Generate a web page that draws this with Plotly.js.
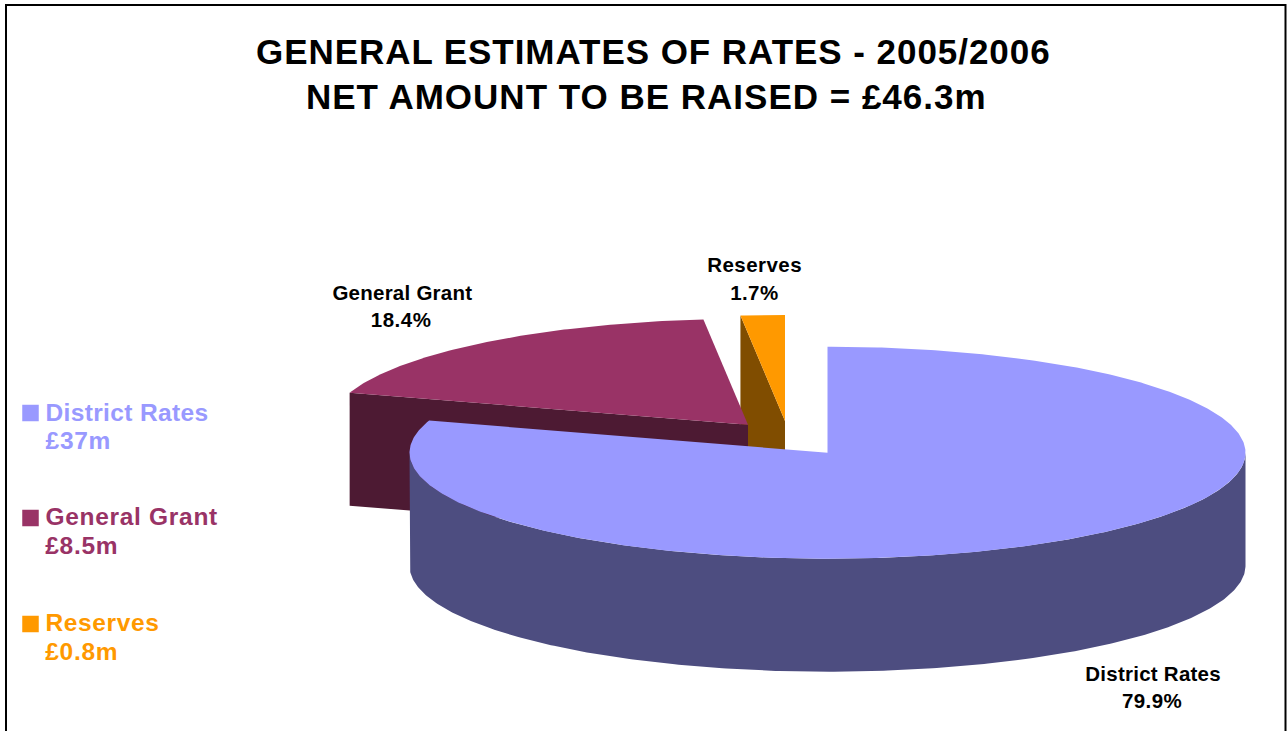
<!DOCTYPE html>
<html><head><meta charset="utf-8">
<script src="https://cdn.plot.ly/plotly-3.0.1.min.js"></script>
<style id="spacing">html,body{margin:0;padding:0;background:#fff;overflow:hidden}</style></head>
<body><div id="chart" style="width:1287px;height:731px"></div>
<script>
// Data
const categories = ["District Rates", "General Grant", "Reserves"];
const amountLabels = ["£37m", "£8.5m", "£0.8m"];
const percents = [79.9, 18.4, 1.7];
const titleLines = ["GENERAL ESTIMATES OF RATES - 2005/2006", "NET AMOUNT TO BE RAISED = £46.3m"];

// Styles
const topColors = ["#9999FF", "#993366", "#FF9900"];
const sideColors = ["#4D4D80", "#4D1A33", "#804D00"];

// Pseudo-3D pie geometry (drawn on pixel-scaled axes)
const RX = 418, RY = 106, DEPTH = 113;
const apexes = [[827.5, 452.7], [748, 424.8], [785, 421]];
const total = percents.reduce((a, b) => a + b, 0);
const ends = []; let acc = 0;
percents.forEach(v => { const s = acc; acc += v / total * 2 * Math.PI; ends.push([s, acc]); });

const pt = (c, t, dy = 0) => [c[0] + RX * Math.sin(t), c[1] - RY * Math.cos(t) + dy];
function arc(c, a, b, dy = 0) {
  const n = Math.max(8, Math.ceil(Math.abs(b - a) / 0.01)), out = [];
  for (let i = 0; i <= n; i++) out.push(pt(c, a + (b - a) * i / n, dy));
  return out;
}
function poly(points, color) {
  const p = points.concat([points[0]]);
  return { type: "scatter", mode: "lines", x: p.map(q => q[0]), y: p.map(q => q[1]),
    fill: "toself", fillcolor: color, line: { width: 0, color: color }, hoverinfo: "skip", showlegend: false };
}
const topFace = i => poly([apexes[i]].concat(arc(apexes[i], ends[i][0], ends[i][1])), topColors[i]);
function cutFace(i) { // the cut edge at the start of the slice faces the viewer
  const c = apexes[i], e = pt(c, ends[i][0]);
  return poly([e, c, [c[0], c[1] + DEPTH], [e[0], e[1] + DEPTH]], sideColors[i]);
}
function rim(i) { // front outer wall of the main slice
  const c = apexes[i];
  return poly(arc(c, Math.PI / 2, 3 * Math.PI / 2).concat(arc(c, 3 * Math.PI / 2, Math.PI / 2, DEPTH)), sideColors[i]);
}
const traces = [cutFace(2), topFace(2), cutFace(1), topFace(1), rim(0), topFace(0)];

// Legend swatches
const swatchY = [413, 518, 624];
traces.push({ type: "scatter", mode: "markers", x: [30.5, 30.5, 30.5], y: swatchY, hoverinfo: "skip", showlegend: false,
  marker: { symbol: "square", size: 16.5, color: topColors, line: { width: 0 } } });

// Text
const spacings = [];
const ann = (text, x, y, size, ls, color, anchor) => { spacings.push(ls); return { text: "<b>" + text + "</b>", x, y, xref: "x", yref: "y",
  xanchor: anchor || "center", yanchor: "middle", showarrow: false,
  font: { family: "Liberation Sans, Arial, sans-serif", size, color: color || "#000" } }; };
const pct = i => percents[i].toFixed(1) + "%";
const annotations = [
  ann(titleLines[0], 653, 51, 35, 0.95), ann(titleLines[1], 646, 96, 35, 1),
  ann(categories[1], 402, 292, 20.5, 0.25), ann(pct(1), 400.5, 319, 20.5, 0.5),
  ann(categories[2], 754.5, 264, 20.5, 0.45), ann(pct(2), 754, 292, 20.5, 0.4),
  ann(categories[0], 1152.5, 673, 20.5, 0.25), ann(pct(0), 1152, 700, 20.5, 0.4),
  ann(categories[0], 45.5, 412, 24.5, 0.35, topColors[0], "left"), ann(amountLabels[0], 44.5, 440, 24.5, 0.7, topColors[0], "left"),
  ann(categories[1], 48, 516, 24.5, 0.7, topColors[1], "left"), ann(amountLabels[1], 44.5, 545, 24.5, 0.7, topColors[1], "left"),
  ann(categories[2], 45.5, 622, 24.5, 0.65, topColors[2], "left"), ann(amountLabels[2], 44.5, 651, 24.5, 0.7, topColors[2], "left")
];
document.getElementById("spacing").textContent += spacings.map((s, i) =>
  `.annotation[data-index="${i}"] text{letter-spacing:${s}px}`).join("");

const layout = {
  width: 1287, height: 731, margin: { l: 0, r: 0, t: 0, b: 0 }, paper_bgcolor: "#fff", plot_bgcolor: "#fff",
  showlegend: false, hovermode: false,
  xaxis: { range: [0, 1287], visible: false, fixedrange: true },
  yaxis: { range: [731, 0], visible: false, fixedrange: true },
  annotations,
  shapes: [{ type: "path", xref: "x", yref: "y", path: "M 6 735 L 6 5 L 1285.5 5 L 1285.5 735",
    line: { color: "#000", width: 2 } }]
};
Plotly.newPlot("chart", traces, layout, { displayModeBar: false, staticPlot: true });
</script></body></html>
